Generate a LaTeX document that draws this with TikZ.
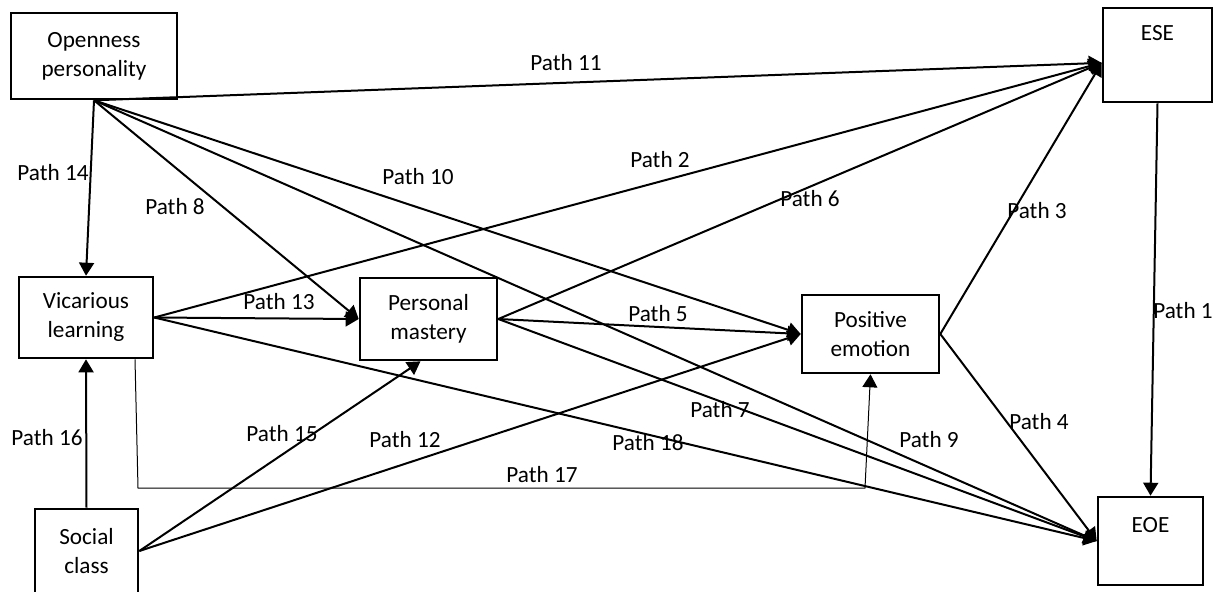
\documentclass[tikz,border=0pt]{standalone}
\usepackage{fontspec}
\setmainfont{Carlito}
\usetikzlibrary{arrows.meta}
\newcommand{\pathfont}{\fontsize{11.6}{14.5}\selectfont}
\tikzset{
  box/.style={draw, line width=1.3pt, align=center, inner sep=0pt, font=\pathfont},
  arr/.style={-{Triangle[length=6.5pt, width=7.5pt]}, line width=1pt},
  thinarr/.style={-{Triangle[length=6.5pt, width=7.5pt]}, line width=0.5pt},
  lbl/.style={font=\pathfont, inner sep=0pt},
}

\begin{document}
\begin{tikzpicture}[x=0.5pt, y=-0.5pt]
    \useasboundingbox (0,0) rectangle (1216,591);
    % boxes
    \node[box, minimum width=83pt, minimum height=43pt] (open) at (94,56) {Openness\\personality};
    \node[box, minimum width=54.5pt, minimum height=47pt, text height=8pt, text depth=22.5pt] (ese) at (1157.5,55) {ESE};
    \node[box, minimum width=67pt, minimum height=40.5pt] (vic) at (86,317.5) {Vicarious\\learning};
    \node[box, minimum width=68.5pt, minimum height=41pt] (pm) at (428.5,319) {Personal\\mastery};
    \node[box, minimum width=68.5pt, minimum height=39pt] (pe) at (870.5,334) {Positive\\emotion};
    \node[box, minimum width=51.5pt, minimum height=42pt] (soc) at (86.5,551) {Social\\class};
    \node[box, minimum width=52.5pt, minimum height=44pt, text height=8pt, text depth=16.5pt] (eoe) at (1150.5,541) {EOE};
    % corner points of path 17
    \coordinate (c17a) at (138,488);
    \coordinate (c17b) at (865,488);
    % connectors
    \draw[arr] (open.south) -- (ese.188);
    \draw[arr] (open.south) -- (vic.north);
    \draw[arr] (open.south) -- (pm.west);
    \draw[arr] (open.south) -- (pe.west);
    \draw[arr] (open.south) -- (eoe.west);
    \draw[arr] (vic.east) -- (ese.188);
    \draw[arr] (vic.east) -- (pm.west);
    \draw[arr] (vic.east) -- (eoe.west);
    \draw[thinarr] ([xshift=24.5pt]vic.south) -- (c17a) -- (c17b) -- (pe.south);
    \draw[arr] (pm.east) -- (ese.188);
    \draw[arr] (pm.east) -- (pe.west);
    \draw[arr] (pm.east) -- (eoe.west);
    \draw[arr] (pe.east) -- (ese.188);
    \draw[arr] (pe.east) -- (eoe.west);
    \draw[arr] (ese.south) -- (eoe.north);
    \draw[arr] (soc.north) -- (vic.south);
    \draw[arr] (soc.east) -- ([xshift=-4pt]pm.south);
    \draw[arr] (soc.east) -- (pe.west);
    % path labels
    \node[lbl] (l1) at (1183,311) {Path 1};
    \node[lbl] (l2) at (660,160) {Path 2};
    \node[lbl] (l3) at (1037,211) {Path 3};
    \node[lbl] (l4) at (1039,422) {Path 4};
    \node[lbl] (l5) at (658,314) {Path 5};
    \node[lbl] (l6) at (810,199) {Path 6};
    \node[lbl] (l7) at (720,410) {Path 7};
    \node[lbl] (l8) at (175,207) {Path 8};
    \node[lbl] (l9) at (929,440) {Path 9};
    \node[lbl] (l10) at (418,177) {Path 10};
    \node[lbl] (l11) at (566,63) {Path 11};
    \node[lbl] (l12) at (405,440) {Path 12};
    \node[lbl] (l13) at (279,302) {Path 13};
    \node[lbl] (l14) at (53,173) {Path 14};
    \node[lbl] (l15) at (282,434) {Path 15};
    \node[lbl] (l16) at (47,438) {Path 16};
    \node[lbl] (l17) at (542,475) {Path 17};
    \node[lbl] (l18) at (648,443) {Path 18};
\end{tikzpicture}
\end{document}
